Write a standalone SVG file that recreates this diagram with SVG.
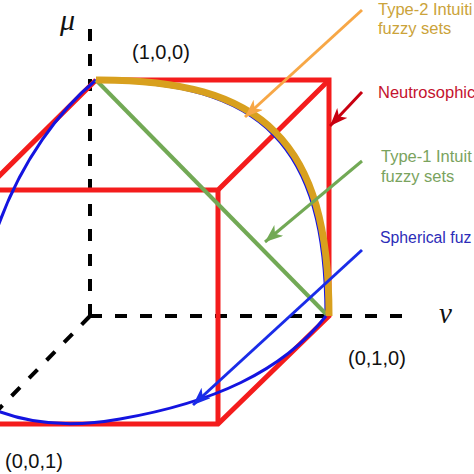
<svg xmlns="http://www.w3.org/2000/svg" width="474" height="474" viewBox="0 0 474 474">
<style>
.axis{stroke:#000;stroke-width:4;stroke-dasharray:12 13;fill:none}
.cube{stroke:#f41c1c;stroke-width:5;fill:none;stroke-linejoin:miter}
.sph{stroke:#1414e0;stroke-width:3;fill:none}
.lbl{font-family:"Liberation Sans",Arial,sans-serif;font-size:16.5px}
.coord{font-family:"Liberation Sans",Arial,sans-serif;font-size:20px;fill:#111}
.greek{font-family:"Liberation Serif","DejaVu Serif",serif;font-style:italic;fill:#111}
</style>
<defs>
<marker id="mo" markerUnits="userSpaceOnUse" markerWidth="20" markerHeight="16" refX="18" refY="7" orient="auto"><path d="M0,0 L18,7 L0,14 L5,7 z" fill="#f7a746"/></marker>
<marker id="mr" markerUnits="userSpaceOnUse" markerWidth="20" markerHeight="16" refX="18" refY="7" orient="auto"><path d="M0,0 L18,7 L0,14 L5,7 z" fill="#c80010"/></marker>
<marker id="mg" markerUnits="userSpaceOnUse" markerWidth="20" markerHeight="16" refX="18" refY="7" orient="auto"><path d="M0,0 L18,7 L0,14 L5,7 z" fill="#72a955"/></marker>
<marker id="mb" markerUnits="userSpaceOnUse" markerWidth="20" markerHeight="16" refX="18" refY="7" orient="auto"><path d="M0,0 L18,7 L0,14 L5,7 z" fill="#1a2ce8"/></marker>
</defs>
<g id="axes">
<line class="axis" x1="90" y1="316" x2="90" y2="18"/>
<line class="axis" x1="90" y1="316" x2="414" y2="316"/>
<line class="axis" x1="90" y1="316" x2="-10" y2="418"/>
</g>
<g id="neutrosophic-cube">
<path class="cube" d="M96,80 L329,80 L329,316 L218,424 L-20,424"/>
<path class="cube" d="M96,80 L-15,190 L218,190 L329,80"/>
<line class="cube" x1="218" y1="190" x2="218" y2="424"/>
</g>
<g id="spherical">
<path class="sph" d="M96,81 C262,81 326,145 326,316"/>
<path class="sph" d="M96,80 C62,108 20,160 -5,235"/>
<path class="sph" d="M326,316 C282,372 212,403 120,419 C70,428 30,424 -5,410"/>
</g>
<g id="type1">
<line x1="96" y1="80" x2="326" y2="314" stroke="#72a955" stroke-width="4"/>
</g>
<g id="type2">
<path d="M96,80 C264,79 329,142 329,316" fill="none" stroke="#d8a01e" stroke-width="7"/>
</g>
<g id="connectors">
<line x1="362" y1="10" x2="245" y2="117" stroke="#f7a746" stroke-width="3" marker-end="url(#mo)"/>
<line x1="362" y1="92" x2="330" y2="126" stroke="#c80010" stroke-width="3" marker-end="url(#mr)"/>
<line x1="362" y1="161" x2="265" y2="242" stroke="#72a955" stroke-width="3" marker-end="url(#mg)"/>
<line x1="362" y1="250" x2="193" y2="405" stroke="#1a2ce8" stroke-width="3" marker-end="url(#mb)"/>
</g>
<g id="labels">
<text class="greek" x="60" y="30" font-size="30">μ</text>
<text class="greek" x="439" y="323" font-size="29">ν</text>
<text class="coord" x="132" y="59">(1,0,0)</text>
<text class="coord" x="348" y="365">(0,1,0)</text>
<text class="coord" x="5" y="468">(0,0,1)</text>
<text class="lbl" x="378" y="15" fill="#cba33a">Type-2 Intuiti</text>
<text class="lbl" x="378" y="34" fill="#cba33a">fuzzy sets</text>
<text class="lbl" x="378" y="98" fill="#c4122e">Neutrosophic</text>
<text class="lbl" x="381" y="162" fill="#7aa35e">Type-1 Intuit</text>
<text class="lbl" x="381" y="182" fill="#7aa35e">fuzzy sets</text>
<text class="lbl" x="380" y="243" fill="#2c2cb8" style="font-size:15.8px">Spherical fuz</text>
</g>
</svg>
